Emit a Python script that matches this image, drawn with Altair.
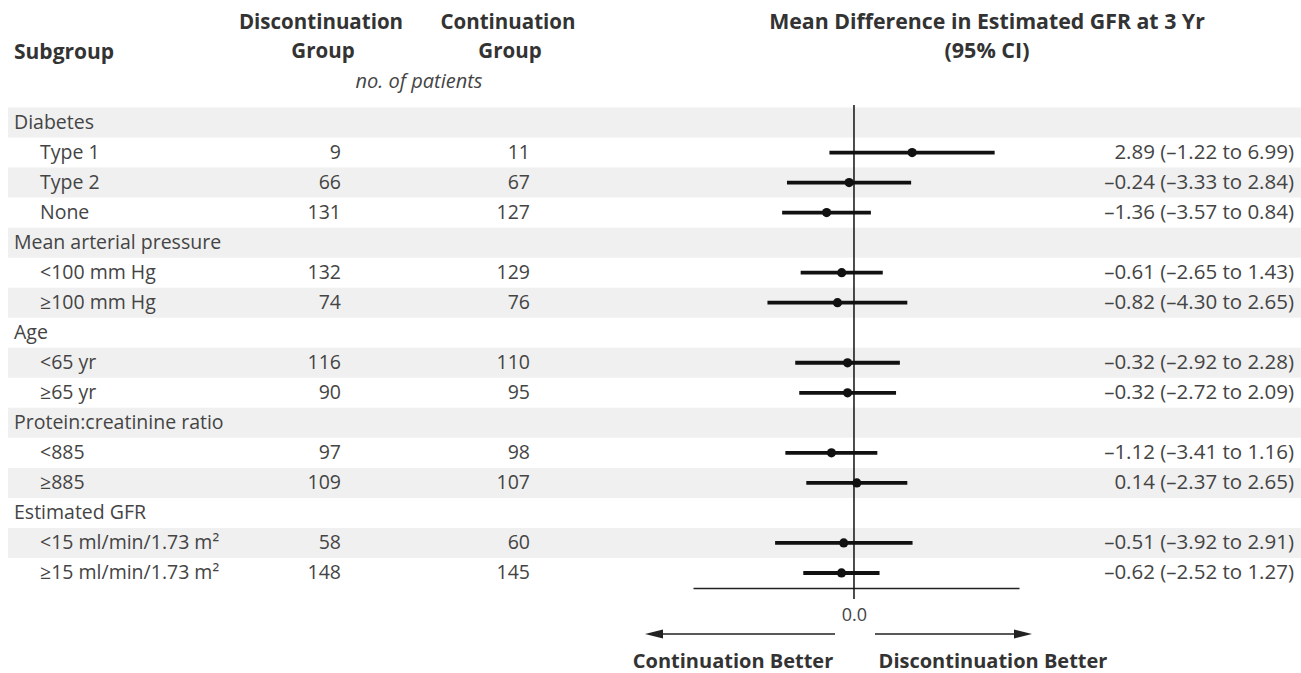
import altair as alt
import pandas as pd

# Forest plot: mean difference in estimated GFR at 3 years, by subgroup
labels = [
    "Diabetes", "Type 1", "Type 2", "None",
    "Mean arterial pressure", "<100 mm Hg", "≥100 mm Hg",
    "Age", "<65 yr", "≥65 yr",
    "Protein:creatinine ratio", "<885", "≥885",
    "Estimated GFR", "<15 ml/min/1.73 m²", "≥15 ml/min/1.73 m²",
]
is_group = [True, False, False, False, True, False, False, True, False, False,
            True, False, False, True, False, False]
disc_n = [None, 9, 66, 131, None, 132, 74, None, 116, 90, None, 97, 109, None, 58, 148]
cont_n = [None, 11, 67, 127, None, 129, 76, None, 110, 95, None, 98, 107, None, 60, 145]
mean_diff = [None, 2.89, -0.24, -1.36, None, -0.61, -0.82, None, -0.32, -0.32,
             None, -1.12, 0.14, None, -0.51, -0.62]
ci_low = [None, -1.22, -3.33, -3.57, None, -2.65, -4.30, None, -2.92, -2.72,
          None, -3.41, -2.37, None, -3.92, -2.52]
ci_high = [None, 6.99, 2.84, 0.84, None, 1.43, 2.65, None, 2.28, 2.09,
           None, 1.16, 2.65, None, 2.91, 1.27]

x_domain = [-8, 8.2]


def fmt(v):
    s = f"{v:.2f}"
    return s.replace("-", "\u2013")


rows = []
for i, lab in enumerate(labels):
    r = {
        "row": i,
        "top": i - 0.5,
        "bottom": i + 0.5,
        "label": lab,
        "group": is_group[i],
        "band": i % 2 == 0,
    }
    if mean_diff[i] is not None:
        r.update({
            "disc": str(disc_n[i]),
            "cont": str(cont_n[i]),
            "est": mean_diff[i],
            "lo": ci_low[i],
            "hi": ci_high[i],
            "ci_text": f"{fmt(mean_diff[i])} ({fmt(ci_low[i])} to {fmt(ci_high[i])})",
        })
    rows.append(r)
df = pd.DataFrame(rows)

FONT = "Open Sans"
TXT = "#444444"
HDR = "#333333"
BODY = 19.5

yscale = alt.Scale(domain=[-0.5, 15.5], range=[107.5, 588])
xscale = alt.Scale(domain=x_domain, range=[693, 1019], nice=False, zero=False)

base = alt.Chart(df)

bands = base.transform_filter("datum.band").mark_rect(color="#f0f0f0").encode(
    y=alt.Y("top:Q", scale=yscale, axis=None),
    y2="bottom:Q",
    x=alt.value(8),
    x2=alt.value(1301),
)

ci = base.transform_filter("isValid(datum.est)").mark_rule(
    color="#111111", strokeWidth=3.8
).encode(
    x=alt.X("lo:Q", scale=xscale,
            axis=alt.Axis(values=[0], format=".1f", ticks=False, grid=False,
                          domainColor="#222222", domainWidth=1.3, title=None,
                          labelFont=FONT, labelFontSize=18, labelColor=TXT,
                          labelPadding=18)),
    x2="hi:Q",
    y=alt.Y("row:Q", scale=yscale, axis=None),
)

zero = alt.Chart(pd.DataFrame({"z": [0]})).mark_rule(
    color="#111111", strokeWidth=1.5
).encode(
    x=alt.X("z:Q", scale=xscale),
    y=alt.value(105),
    y2=alt.value(599),
)

pts = base.transform_filter("isValid(datum.est)").mark_point(
    shape="circle", filled=True, size=85, color="#111111", opacity=1
).encode(
    x=alt.X("est:Q", scale=xscale),
    y=alt.Y("row:Q", scale=yscale),
)

group_lbl = base.transform_filter("datum.group").mark_text(
    align="left", baseline="middle", font=FONT, fontSize=BODY, color=TXT
).encode(x=alt.value(14), y=alt.Y("row:Q", scale=yscale), text="label:N")

sub_lbl = base.transform_filter("!datum.group").mark_text(
    align="left", baseline="middle", font=FONT, fontSize=BODY, color=TXT
).encode(x=alt.value(40), y=alt.Y("row:Q", scale=yscale), text="label:N")

disc_txt = base.transform_filter("isValid(datum.est)").mark_text(
    align="right", baseline="middle", font=FONT, fontSize=BODY, color=TXT
).encode(x=alt.value(341), y=alt.Y("row:Q", scale=yscale), text="disc:N")

cont_txt = base.transform_filter("isValid(datum.est)").mark_text(
    align="right", baseline="middle", font=FONT, fontSize=BODY, color=TXT
).encode(x=alt.value(530), y=alt.Y("row:Q", scale=yscale), text="cont:N")

ci_txt = base.transform_filter("isValid(datum.est)").mark_text(
    align="right", baseline="middle", font=FONT, fontSize=20.5, color=TXT
).encode(x=alt.value(1294), y=alt.Y("row:Q", scale=yscale), text="ci_text:N")


def label(text, x, y, align="center", bold=True, italic=False, size=20.5,
          color=HDR, baseline="middle"):
    return alt.Chart(pd.DataFrame({"t": [text]})).mark_text(
        align=align, baseline=baseline, font=FONT, fontSize=size,
        fontWeight="bold" if bold else "normal",
        fontStyle="italic" if italic else "normal", color=color,
    ).encode(x=alt.value(x), y=alt.value(y), text="t:N")


headers = [
    label("Subgroup", 14, 53, align="left", size=21),
    label("Discontinuation", 321, 23),
    label("Group", 323, 52),
    label("Continuation", 508, 23),
    label("Group", 510, 52),
    label("no. of patients", 419, 82, bold=False, italic=True, size=20, color=TXT),
    label("Mean Difference in Estimated GFR at 3 Yr", 987, 23, size=21.3),
    label("(95% CI)", 987, 52, size=21.5),
    label("Continuation Better", 733, 668, size=20, baseline="alphabetic"),
    label("Discontinuation Better", 993, 668, size=20, baseline="alphabetic"),
]

# Direction arrows under the axis
arrow_y = 634
arrows_df = pd.DataFrame({"a": [0]})
arrow_lines = [
    alt.Chart(arrows_df).mark_rule(color="#222222", strokeWidth=1.6).encode(
        x=alt.value(x1), x2=alt.value(x2), y=alt.value(arrow_y))
    for x1, x2 in [(650, 835), (875, 1026)]
]
head_left = alt.Chart(arrows_df).mark_point(
    shape="M -1 0 L 1 -0.5 L 1 0.5 Z", filled=True, size=324, color="#222222", opacity=1
).encode(x=alt.value(654), y=alt.value(arrow_y))
head_right = alt.Chart(arrows_df).mark_point(
    shape="M 1 0 L -1 -0.5 L -1 0.5 Z", filled=True, size=324, color="#222222", opacity=1
).encode(x=alt.value(1023), y=alt.value(arrow_y))

chart = alt.layer(
    bands, zero, ci, pts, group_lbl, sub_lbl, disc_txt, cont_txt, ci_txt,
    *headers, *arrow_lines, head_left, head_right,
).properties(
    width=1301, height=588,
    padding={"left": 0, "top": 0, "right": 0, "bottom": 85},
    autosize=alt.AutoSizeParams(type="none"),
    background="white",
).configure_view(stroke=None)

chart.save("out.html", embed_options={"renderer": "svg", "actions": False})
